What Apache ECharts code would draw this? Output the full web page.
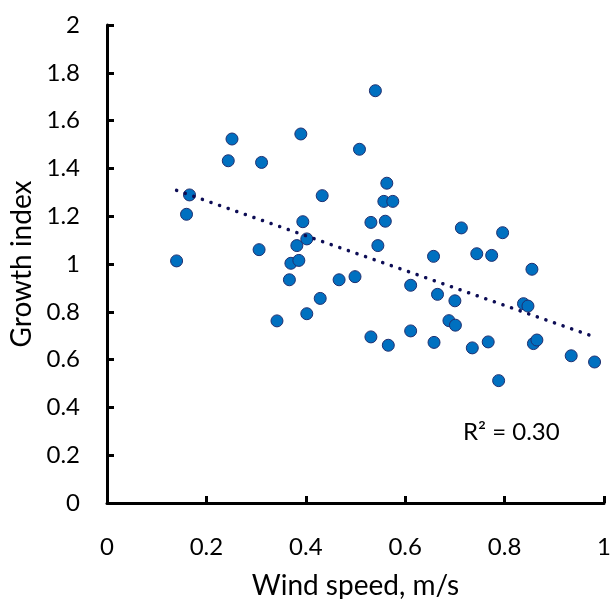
<!DOCTYPE html>
<html><head><meta charset="utf-8">
<script src="https://cdn.jsdelivr.net/npm/echarts@6/dist/echarts.min.js"></script>
<style>html,body{margin:0;padding:0;background:#fff}#c{width:616px;height:599px}</style>
</head><body><div id="c"></div>
<script>
const windSpeed = [0.140,0.160,0.166,0.244,0.2515,0.306,0.311,0.342,0.367,0.370,0.382,0.386,0.390,0.394,0.402,0.402,0.429,0.433,0.467,0.499,0.508,0.531,0.531,0.540,0.545,0.557,0.560,0.563,0.566,0.575,0.611,0.611,0.657,0.658,0.665,0.688,0.700,0.701,0.713,0.735,0.744,0.767,0.774,0.788,0.796,0.838,0.847,0.855,0.858,0.865,0.934,0.981];
const growthIndex = [1.013,1.208,1.289,1.432,1.523,1.060,1.425,0.762,0.934,1.003,1.077,1.015,1.544,1.177,1.105,0.792,0.856,1.286,0.934,0.947,1.480,1.174,0.695,1.725,1.077,1.262,1.179,1.338,0.660,1.262,0.911,0.720,1.032,0.672,0.873,0.763,0.846,0.744,1.151,0.649,1.043,0.674,1.036,0.512,1.131,0.834,0.824,0.978,0.667,0.682,0.616,0.590];
const trendX = [0.140, 0.981];
const trendY = [1.308, 0.695];
const xTicks = [0,0.2,0.4,0.6,0.8,1];
const yTicks = [0,0.2,0.4,0.6,0.8,1,1.2,1.4,1.6,1.8,2];
const rSquaredLabel = 'R² = 0.30';

const font = 'Lato, "Open Sans", sans-serif';
const chart = echarts.init(document.getElementById('c'), null, {renderer:'canvas'});
chart.setOption({
  animation:false,
  grid:{left:107,right:12,top:25,bottom:96,containLabel:false,outerBoundsMode:'none'},
  xAxis:{type:'value',min:0,max:1,interval:0.2,
    name:'Wind speed, m/s',nameLocation:'middle',nameGap:69,
    nameTextStyle:{fontFamily:font,fontSize:28,color:'#000'},
    axisLine:{lineStyle:{color:'#000',width:3}},
    axisTick:{inside:true,length:7,lineStyle:{color:'#000',width:3}},
    axisLabel:{fontFamily:font,fontSize:24,color:'#000',margin:32,
      formatter:v=>xTicks.includes(+v.toFixed(1))?String(+v.toFixed(1)):''},
    splitLine:{show:false}},
  yAxis:{type:'value',min:0,max:2,interval:0.2,
    name:'Growth index',nameLocation:'middle',nameGap:70,
    nameTextStyle:{fontFamily:font,fontSize:28,color:'#000'},
    axisLine:{show:true,lineStyle:{color:'#000',width:3}},
    axisTick:{show:true,inside:true,length:7,lineStyle:{color:'#000',width:3}},
    axisLabel:{fontFamily:font,fontSize:24,color:'#000',margin:27,
      formatter:v=>{const s=+v.toFixed(1);return yTicks.includes(s)?String(s):'';}},
    splitLine:{show:false}},
  graphic:[{type:'text',left:463,top:420,style:{text:rSquaredLabel,font:'24px '+font,fill:'#000'}}],
  series:[
    {type:'line',data:trendX.map((x,i)=>[x,trendY[i]]),symbol:'none',z:3,
      lineStyle:{color:'#0D0D55',width:3.5,type:[0.1,9],cap:'round'}},
    {type:'scatter',data:windSpeed.map((x,i)=>[x,growthIndex[i]]),symbol:'circle',symbolSize:12,z:2,
      itemStyle:{color:'#0070C0',borderColor:'#1F2F6F',borderWidth:1,opacity:1}}
  ]
});
</script></body></html>
